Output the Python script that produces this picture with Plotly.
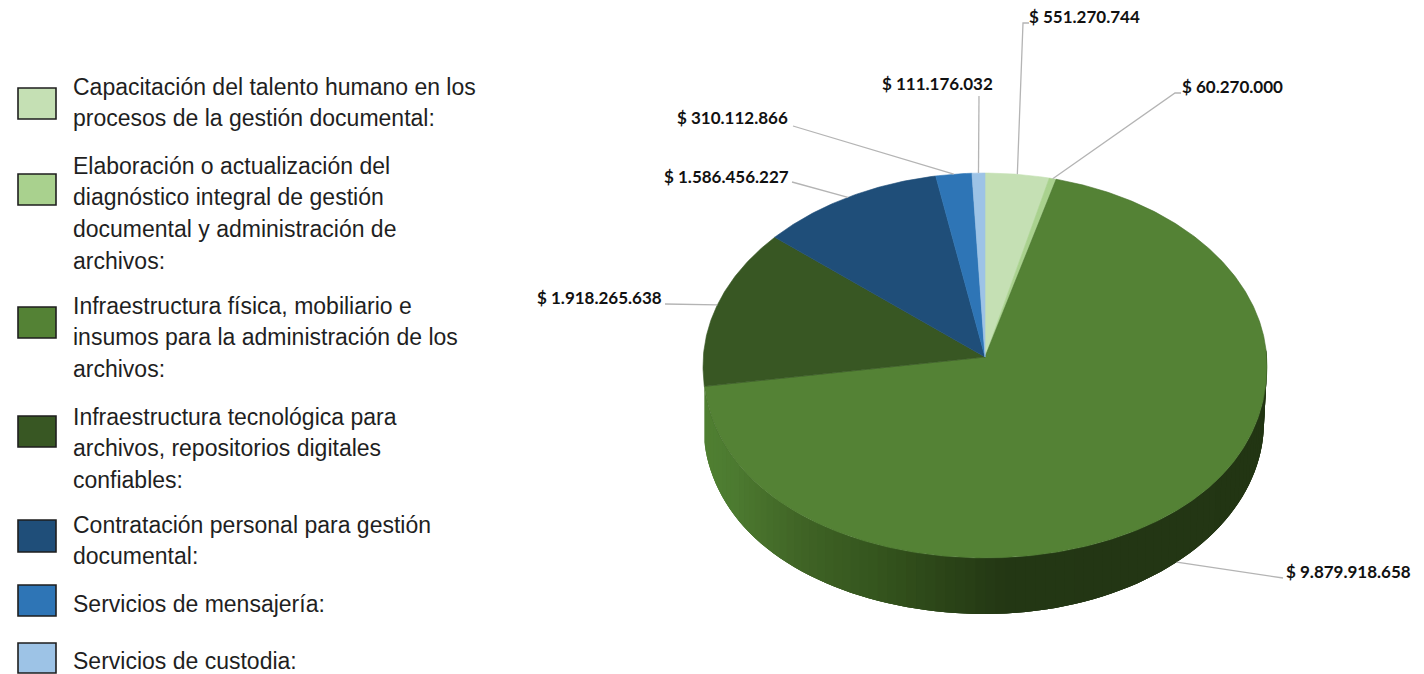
import numpy as np
import plotly.graph_objects as go

# ---- data (clockwise from 12 o'clock, as in the chart) ----
categories = [
    "Capacitación del talento humano en los<br>procesos de la gestión documental:",
    "Elaboración o actualización del<br>diagnóstico integral de gestión<br>documental y administración de<br>archivos:",
    "Infraestructura física, mobiliario e<br>insumos para la administración de los<br>archivos:",
    "Infraestructura tecnológica para<br>archivos, repositorios digitales<br>confiables:",
    "Contratación personal para gestión<br>documental:",
    "Servicios de mensajería:",
    "Servicios de custodia:",
]
values = [551270744, 60270000, 9879918658, 1918265638, 1586456227, 310112866, 111176032]
value_labels = ["$ 551.270.744", "$ 60.270.000", "$ 9.879.918.658", "$ 1.918.265.638",
                "$ 1.586.456.227", "$ 310.112.866", "$ 111.176.032"]
colors = ["#C5E0B4", "#A9D18E", "#548235", "#385723", "#1F4E79", "#2E75B6", "#9DC3E6"]

# ---- layout of the pseudo-3D pie (pixel-like axis units) ----
CX, CY, A, B, K, DEPTH = 985, 357, 192.1, 281.7, 0.0442, 56
WALL_X = [700, 733, 800, 867, 933, 1000, 1430]
WALL_R = [0x50, 0x4C, 0x3F, 0x35, 0x2C, 0x23, 0x22]
WALL_G = [0x80, 0x7A, 0x63, 0x56, 0x46, 0x37, 0x34]
WALL_B = [0x32, 0x30, 0x25, 0x1E, 0x18, 0x14, 0x13]

# label centre (x, y), then the leader's elbow points nearest the pie first
label_pos = [(1085, 17), (1233, 87), (1349, 572), (600, 298), (727, 177), (733, 118), (938, 84)]
leader_bends = [
    [(1023, 23), (1029, 23)],
    [(1175, 93), (1181, 93)],
    [(1275, 577), (1283, 578)],
    [(665, 304)],
    [(792, 182)],
    [(793, 126)],
    [(979, 96)],
]

swatch_y = [(88, 119), (174, 205), (307, 338), (416, 447), (520, 552), (585, 616), (643, 673)]
legend_line_y = [[87, 118], [166, 197, 229, 261], [306, 337, 369], [417, 448, 480], [525, 556], [604], [661]]


def project(deg, drop=0):
    t = np.radians(deg)
    u, v = np.sin(t), -np.cos(t)
    w = 1 - K * v
    x = CX + B * u / w
    y = CY + A * v / w + drop
    bump = 5.5 * np.sin(np.pi * np.clip(v, 0, 1))
    if drop:
        y = y + np.where(u < 0, bump, 0)
        x = x - 3 * np.clip(u, 0, 1) ** 3
    else:
        y = y + bump
    return x, y


fractions = np.array(values) / sum(values)
edges = np.concatenate([[0], np.cumsum(fractions) * 360])

fig = go.Figure()

# side wall of the large slice, shaded by x; each band overlaps the next to hide seams
big = 2
wall_angles = np.linspace(min(edges[big + 1], 270), 88, 90)
for j in range(len(wall_angles) - 1):
    arc = np.linspace(wall_angles[j], wall_angles[min(j + 3, len(wall_angles) - 1)], 4)
    x0, y0 = project(arc)
    x1, y1 = project(arc[::-1], DEPTH)
    xm = float(project(wall_angles[j])[0])
    c = "rgb(%d,%d,%d)" % tuple(round(float(np.interp(xm, WALL_X, ch))) for ch in (WALL_R, WALL_G, WALL_B))
    fig.add_trace(go.Scatter(x=np.r_[x0, x1, x0[0]], y=np.r_[y0, y1, y0[0]], mode="none", fill="toself",
                             fillcolor=c, hoverinfo="skip"))

# top faces
for i, col in enumerate(colors):
    n = max(int((edges[i + 1] - edges[i]) * 2), 4)
    ang = np.linspace(edges[i], edges[i + 1], n)
    x, y = project(ang)
    edge = "#47702C" if i == big else col
    fig.add_trace(go.Scatter(x=np.r_[CX, x, CX], y=np.r_[CY, y, CY], mode="lines", fill="toself",
                             fillcolor=col, line=dict(color=edge, width=0.6),
                             name=categories[i].replace("<br>", " "), text=value_labels[i],
                             hoverinfo="name+text"))

annotations = []
# leaders and value labels
for i, lab in enumerate(value_labels):
    mid = (edges[i] + edges[i + 1]) / 2
    sx, sy = project(mid, DEPTH if i == big else 0)
    pts = [(float(sx), float(sy))] + leader_bends[i]
    fig.add_trace(go.Scatter(x=[p[0] for p in pts], y=[p[1] for p in pts], mode="lines",
                             line=dict(color="#B4B4B4", width=1.3), hoverinfo="skip"))
    annotations.append(dict(x=label_pos[i][0] - 1, y=label_pos[i][1] - 0.5, text=f"<b>{lab}</b>", showarrow=False,
                            xanchor="center", yanchor="middle",
                            font=dict(family="Lato", size=17, color="#111111")))

# legend
shapes = []
for i, cat in enumerate(categories):
    y0, y1 = swatch_y[i]
    shapes.append(dict(type="rect", x0=18, x1=56, y0=y0, y1=y1, fillcolor=colors[i],
                       line=dict(color="#1E1E1E", width=1.6)))
    for line, ly in zip(cat.split("<br>"), legend_line_y[i]):
        annotations.append(dict(x=71, y=ly, text=line, showarrow=False, xanchor="left",
                                yanchor="middle", align="left",
                                font=dict(family="Liberation Sans", size=23, color="#1F1F1F")))

fig.update_layout(
    width=1424, height=674, margin=dict(l=0, r=0, t=0, b=0),
    paper_bgcolor="white", plot_bgcolor="white", showlegend=False,
    xaxis=dict(range=[0, 1424], visible=False, fixedrange=True),
    yaxis=dict(range=[674, 0], visible=False, fixedrange=True),
    annotations=annotations, shapes=shapes,
)
fig.write_html("out.html", post_script="document.body.style.margin='0';document.body.style.overflow='hidden';",
               config=dict(displayModeBar=False))
